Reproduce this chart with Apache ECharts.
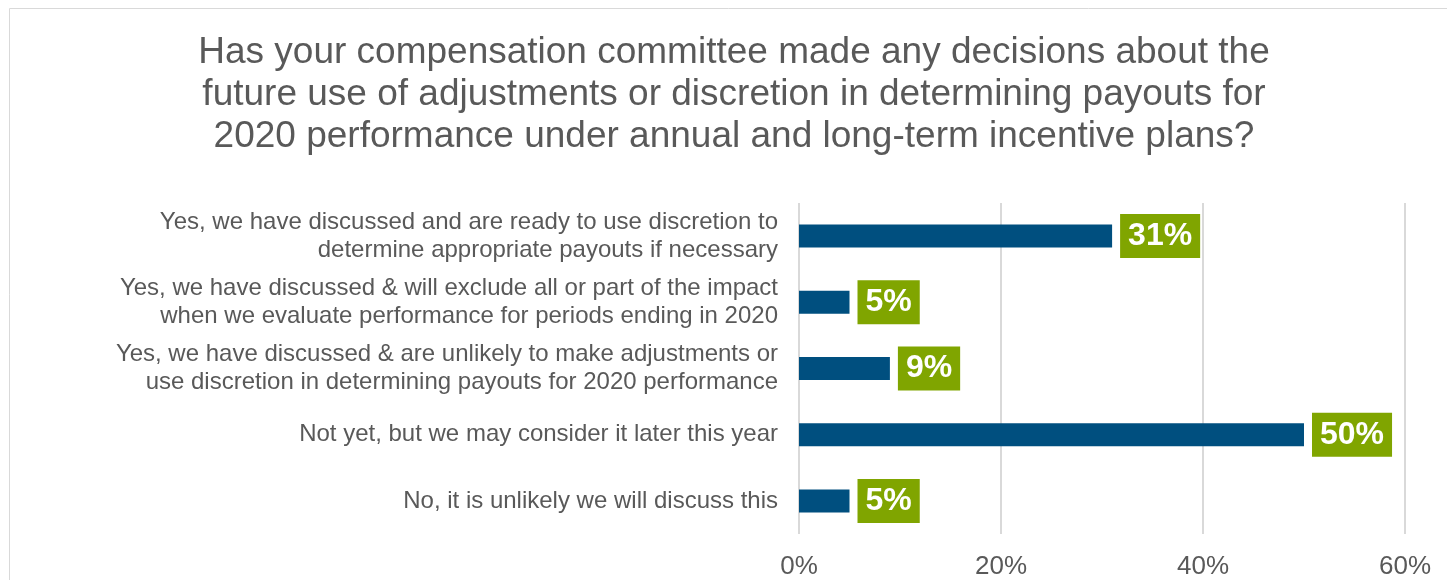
<!DOCTYPE html>
<html>
<head>
<meta charset="utf-8">
<script src="https://cdn.jsdelivr.net/npm/echarts@6/dist/echarts.min.js"></script>
<style>
  html, body { margin: 0; padding: 0; background: #fff; }
  #chart { width: 1447px; height: 580px; }
</style>
</head>
<body>
<div id="chart"></div>
<script>
// Survey responses, listed top to bottom
const categories = [
  'Yes, we have discussed and are ready to use discretion to\ndetermine appropriate payouts if necessary',
  'Yes, we have discussed & will exclude all or part of the impact\nwhen we evaluate performance for periods ending in 2020',
  'Yes, we have discussed & are unlikely to make adjustments or\nuse discretion in determining payouts for 2020 performance',
  'Not yet, but we may consider it later this year',
  'No, it is unlikely we will discuss this'
];
const shares = [31, 5, 9, 50, 5];
const axisTicks = [0, 20, 40, 60];

const chart = echarts.init(document.getElementById('chart'));
const textGrey = '#595959';
const font = 'Liberation Sans, Arial, sans-serif';

chart.setOption({
  animation: false,
  title: {
    text: 'Has your compensation committee made any decisions about the\nfuture use of adjustments or discretion in determining payouts for\n2020 performance under annual and long-term incentive plans?',
    left: 729,
    textAlign: 'center',
    top: 27,
    textStyle: {
      fontFamily: font,
      fontSize: 37,
      fontWeight: 'normal',
      color: textGrey,
      lineHeight: 42
    }
  },
  graphic: [{
    type: 'rect',
    shape: { x: 9.5, y: 8.5, width: 1470, height: 600 },
    style: { fill: 'none', stroke: '#d9d9d9', lineWidth: 1 },
    silent: true
  }],
  grid: {
    left: 799,
    right: 42,
    top: 203,
    bottom: 45,
    containLabel: false
  },
  xAxis: {
    type: 'value',
    min: axisTicks[0],
    max: axisTicks[axisTicks.length - 1],
    interval: 20,
    axisLine: { show: false },
    axisTick: { show: false },
    splitLine: { lineStyle: { color: '#d9d9d9', width: 2 } },
    axisLabel: {
      formatter: v => v + '%',
      color: textGrey,
      fontFamily: font,
      fontSize: 26,
      margin: 20
    }
  },
  yAxis: {
    type: 'category',
    inverse: true,
    data: categories,
    axisLine: { show: false },
    axisTick: { show: false },
    axisLabel: {
      color: textGrey,
      fontFamily: font,
      fontSize: 24,
      lineHeight: 28,
      align: 'right',
      margin: 21
    }
  },
  series: [{
    type: 'bar',
    data: shares,
    barWidth: 23,
    itemStyle: { color: '#004F7F' },
    label: {
      show: true,
      position: 'right',
      distance: 8,
      formatter: p => p.value + '%',
      color: '#ffffff',
      backgroundColor: '#80A500',
      fontFamily: font,
      fontSize: 32,
      fontWeight: 'bold',
      padding: [7, 8, 5, 8]
    }
  }]
});
</script>
</body>
</html>
